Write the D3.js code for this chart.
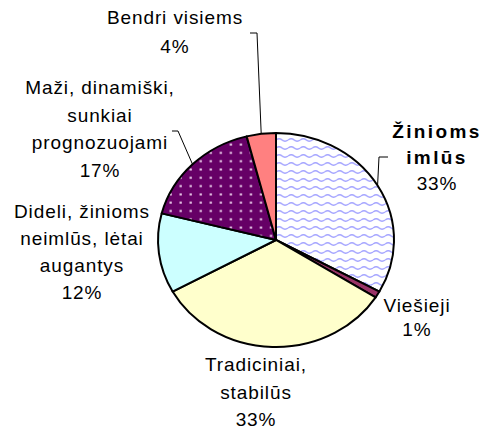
<!DOCTYPE html>
<html>
<head>
<meta charset="utf-8">
<script src="https://cdn.jsdelivr.net/npm/d3@7"></script>
<style>
  html,body{margin:0;padding:0;background:#fff}
  svg{display:block}
  .lbl{font-family:'Liberation Sans',Arial,sans-serif;font-size:19px;fill:#000;letter-spacing:0.9px}
  .lbl.bold{font-weight:700;letter-spacing:2.4px}
</style>
</head>
<body>
<svg id="chart"></svg>
<script>
// data
const categories = ['Žinioms imlūs', 'Viešieji', 'Tradiciniai, stabilūs',
  'Dideli, žinioms neimlūs, lėtai augantys', 'Maži, dinamiški, sunkiai prognozuojami', 'Bendri visiems'];
const shares = [33, 1, 33, 12, 17, 4];
const labelLines = [
  ['Žinioms', 'imlūs'],
  ['Viešieji'],
  ['Tradiciniai,', 'stabilūs'],
  ['Dideli, žinioms', 'neimlūs, lėtai', 'augantys'],
  ['Maži, dinamiški,', 'sunkiai', 'prognozuojami'],
  ['Bendri visiems'],
];
const boldLabel = [true, false, false, false, false, false];

// styles / layout
const sliceFills = ['url(#waves)', '#993366', '#ffffcc', '#ccffff', 'url(#dots)', '#ff8080'];
const labelPos = [
  { x: 437, y: 138, lh: 26 },
  { x: 417, y: 312, lh: 24 },
  { x: 256, y: 371, lh: 27.5 },
  { x: 82, y: 218, lh: 27 },
  { x: 100, y: 94, lh: 27.7 },
  { x: 175, y: 24, lh: 29 },
];
const leaderStart = [
  [[388, 157], [379, 157]],
  null, null, null,
  [[172, 131], [178, 131]],
  [[250, 33], [257, 33]],
];

const W = 483, H = 431;
const cx = 276, cy = 240, rx = 118, ry = 107;
const sx = rx / ry;

const svg = d3.select('#chart').attr('width', W).attr('height', H);
const defs = svg.append('defs');

// wavy pattern (drawn inside the x-stretched group, so width is pre-divided)
const wp = defs.append('pattern').attr('id', 'waves').attr('patternUnits', 'userSpaceOnUse')
  .attr('width', 11).attr('height', 8);
wp.append('rect').attr('width', 11).attr('height', 8).attr('fill', '#fff');
wp.append('path').attr('d', 'M0,4 Q2.75,1.5 5.5,4 T11,4')
  .attr('fill', 'none').attr('stroke', '#a3a3ff').attr('stroke-width', 1.3);

const dp = defs.append('pattern').attr('id', 'dots').attr('patternUnits', 'userSpaceOnUse')
  .attr('width', 9.1).attr('height', 8.3);
dp.append('rect').attr('width', 9.1).attr('height', 8.3).attr('fill', '#660066');
dp.append('rect').attr('x', 3.6).attr('y', 3.2).attr('width', 2).attr('height', 2)
  .attr('fill', '#f4dcf4');

const pie = d3.pie().sort(null).value(d => d)(shares);
const arc = d3.arc().innerRadius(0).outerRadius(ry);

const g = svg.append('g').attr('transform', `translate(${cx},${cy}) scale(${sx},1)`);
g.selectAll('path.slice').data(pie).enter().append('path')
  .attr('class', 'slice')
  .attr('d', arc)
  .attr('fill', (d, i) => sliceFills[i])
  .attr('stroke', '#000').attr('stroke-width', 2)
  .attr('stroke-linejoin', 'round')
  .attr('vector-effect', 'non-scaling-stroke');

// leader lines to the slice edge at mid angle
pie.forEach((d, i) => {
  if (!leaderStart[i]) return;
  const a = (d.startAngle + d.endAngle) / 2;
  const end = [cx + rx * Math.sin(a), cy - ry * Math.cos(a)];
  const pts = leaderStart[i].concat([end]);
  svg.append('path').attr('d', d3.line()(pts))
    .attr('fill', 'none').attr('stroke', '#000').attr('stroke-width', 1);
});

// labels
categories.forEach((c, i) => {
  const p = labelPos[i];
  const t = svg.append('text').attr('class', 'lbl').attr('text-anchor', 'middle');
  const lines = labelLines[i].concat([shares[i] + '%']);
  lines.forEach((ln, j) => {
    t.append('tspan').attr('x', p.x).attr('y', p.y + j * p.lh)
      .attr('class', boldLabel[i] && j < lines.length - 1 ? 'lbl bold' : null)
      .text(ln);
  });
});
</script>
</body>
</html>
